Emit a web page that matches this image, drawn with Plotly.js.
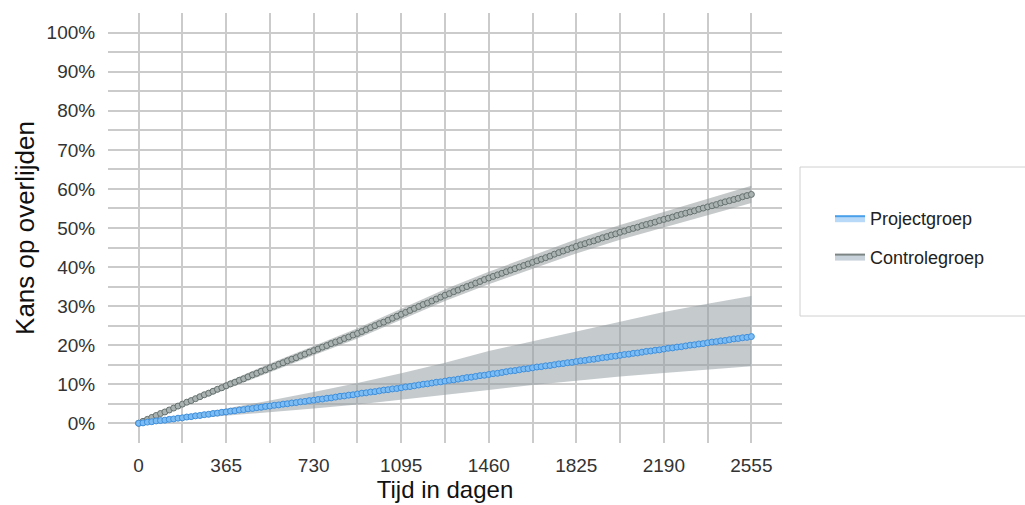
<!DOCTYPE html>
<html>
<head>
<meta charset="utf-8">
<script src="https://cdn.plot.ly/plotly-3.0.1.min.js"></script>
<style>html,body{margin:0;padding:0;background:#fff;}#chart{width:1025px;height:505px;}</style>
</head>
<body>
<div id="chart"></div>
<script>
// Days of each plotted point (20 per year)
const days = [0,18.25,36.5,54.75,73,91.25,109.5,127.75,146,164.25,
182.5,200.75,219,237.25,255.5,273.75,292,310.25,328.5,346.75,
365,383.25,401.5,419.75,438,456.25,474.5,492.75,511,529.25,
547.5,565.75,584,602.25,620.5,638.75,657,675.25,693.5,711.75,
730,748.25,766.5,784.75,803,821.25,839.5,857.75,876,894.25,
912.5,930.75,949,967.25,985.5,1003.75,1022,1040.25,1058.5,1076.75,
1095,1113.25,1131.5,1149.75,1168,1186.25,1204.5,1222.75,1241,1259.25,
1277.5,1295.75,1314,1332.25,1350.5,1368.75,1387,1405.25,1423.5,1441.75,
1460,1478.25,1496.5,1514.75,1533,1551.25,1569.5,1587.75,1606,1624.25,
1642.5,1660.75,1679,1697.25,1715.5,1733.75,1752,1770.25,1788.5,1806.75,
1825,1843.25,1861.5,1879.75,1898,1916.25,1934.5,1952.75,1971,1989.25,
2007.5,2025.75,2044,2062.25,2080.5,2098.75,2117,2135.25,2153.5,2171.75,
2190,2208.25,2226.5,2244.75,2263,2281.25,2299.5,2317.75,2336,2354.25,
2372.5,2390.75,2409,2427.25,2445.5,2463.75,2482,2500.25,2518.5,2536.75,
2555];

// Controlegroep (%)
const controle = [0,0.5,1.0,1.5,2.0,2.5,2.9,3.4,3.9,4.4,
4.9,5.4,5.8,6.3,6.8,7.3,7.7,8.2,8.7,9.1,
9.6,10.1,10.5,11.0,11.4,11.9,12.4,12.8,13.3,13.7,
14.2,14.6,15.1,15.5,16.0,16.4,16.8,17.3,17.7,18.2,
18.6,19.0,19.5,19.9,20.4,20.8,21.2,21.7,22.1,22.6,
23.0,23.5,24.0,24.5,25.0,25.5,25.9,26.4,26.9,27.4,
27.9,28.4,28.9,29.4,29.9,30.4,30.8,31.3,31.8,32.3,
32.8,33.2,33.7,34.1,34.6,35.0,35.4,35.9,36.3,36.8,
37.2,37.6,38.0,38.4,38.8,39.2,39.6,40.0,40.4,40.8,
41.2,41.6,42.0,42.4,42.8,43.3,43.7,44.1,44.5,44.9,
45.3,45.7,46.0,46.4,46.7,47.1,47.5,47.8,48.2,48.5,
48.9,49.2,49.6,49.9,50.2,50.6,50.9,51.2,51.5,51.9,
52.2,52.5,52.8,53.2,53.5,53.8,54.1,54.4,54.8,55.1,
55.4,55.7,56.0,56.4,56.7,57.0,57.3,57.6,58.0,58.3,
58.6];

// Projectgroep (%)
const project = [0,0.1,0.3,0.4,0.6,0.7,0.8,1.0,1.1,1.3,
1.4,1.6,1.7,1.9,2.0,2.2,2.3,2.5,2.6,2.8,
2.9,3.1,3.2,3.4,3.5,3.7,3.8,4.0,4.1,4.3,
4.4,4.6,4.7,4.9,5.0,5.2,5.3,5.5,5.6,5.8,
5.9,6.1,6.2,6.4,6.5,6.7,6.9,7.0,7.2,7.3,
7.5,7.7,7.8,8.0,8.1,8.3,8.5,8.6,8.8,8.9,
9.1,9.3,9.4,9.6,9.8,10.0,10.1,10.3,10.5,10.6,
10.8,11.0,11.1,11.3,11.5,11.7,11.8,12.0,12.2,12.3,
12.5,12.7,12.8,13.0,13.2,13.4,13.5,13.7,13.9,14.0,
14.2,14.4,14.5,14.7,14.8,15.0,15.2,15.3,15.5,15.6,
15.8,16.0,16.1,16.3,16.4,16.6,16.8,16.9,17.1,17.2,
17.4,17.6,17.7,17.9,18.0,18.2,18.4,18.5,18.7,18.8,
19.0,19.2,19.3,19.5,19.6,19.8,20.0,20.1,20.3,20.4,
20.6,20.8,20.9,21.1,21.2,21.4,21.6,21.7,21.9,22.0,
22.2];

// Confidence bands (%), every half year
const bandDays = [0,182.5,365,547.5,730,912.5,1095,1277.5,1460,1642.5,1825,2007.5,2190,2372.5,2555];
const controleUpper = [0,5.5,10.5,15.3,19.8,24.3,29.3,34.3,38.8,42.9,47.1,50.8,54.2,57.5,60.8];
const controleLower = [0,4.3,8.7,13.1,17.4,21.7,26.5,31.3,35.6,39.5,43.5,47.0,50.2,53.3,56.4];
const projectUpper = [0,1.8,3.8,5.8,8.0,10.3,12.8,15.5,18.5,21.0,23.5,26.0,28.5,30.6,32.6];
const projectLower = [0,1.0,2.0,2.9,3.8,4.8,6.0,7.3,8.5,9.8,10.9,12.0,12.9,13.8,14.6];

const xTicks = [0,365,730,1095,1460,1825,2190,2555];
const yTicks = [0,10,20,30,40,50,60,70,80,90,100];
const seriesNames = ['Projectgroep','Controlegroep'];

function band(upper, lower, color) {
  return {
    x: bandDays.concat(bandDays.slice().reverse()),
    y: upper.concat(lower.slice().reverse()),
    type: 'scatter', mode: 'lines', fill: 'toself',
    fillcolor: color, line: {width: 0, color: 'rgba(0,0,0,0)'},
    hoverinfo: 'skip', showlegend: false
  };
}

const traces = [
  band(controleUpper, controleLower, 'rgba(150,156,156,0.55)'),
  band(projectUpper, projectLower, 'rgba(150,158,164,0.55)'),
  {
    x: days, y: controle, type: 'scatter', mode: 'lines+markers', showlegend: false,
    line: {color: '#8a9493', width: 1},
    marker: {size: 6, color: '#a9b2b1', line: {color: '#66726f', width: 1}}
  },
  {
    x: days, y: project, type: 'scatter', mode: 'lines+markers', showlegend: false,
    line: {color: '#5aaaf0', width: 1.5},
    marker: {size: 6, color: '#7cbcf2', line: {color: '#3e8fdc', width: 1}}
  },
  {
    x: [null], y: [null], name: seriesNames[0], type: 'scatter', mode: 'lines',
    fill: 'toself', fillcolor: 'rgba(160,205,245,0.75)', legendgroup: 'a',
    line: {color: '#4a9fea', width: 2}
  },
  {
    x: [null], y: [null], name: seriesNames[1], type: 'scatter', mode: 'lines',
    fill: 'toself', fillcolor: 'rgba(180,195,205,0.75)', legendgroup: 'b',
    line: {color: '#7d8584', width: 2}
  }
];

const gridCol = '#cbcbcb';
const layout = {
  width: 1025, height: 505,
  margin: {l: 108, r: 243, t: 13, b: 62},
  paper_bgcolor: '#ffffff', plot_bgcolor: '#ffffff',
  font: {family: 'Liberation Sans, Arial, sans-serif', color: '#333'},
  showlegend: true,
  xaxis: {
    range: [-127.75, 2682.75], tickvals: xTicks, ticktext: xTicks.map(String),
    showgrid: true, gridcolor: gridCol, gridwidth: 2, zeroline: false, showline: false,
    minor: {dtick: 182.5, tick0: 0, showgrid: true, gridcolor: gridCol, gridwidth: 2},
    ticks: 'outside', ticklen: 5, tickcolor: 'rgba(0,0,0,0)',
    tickfont: {size: 19, color: '#333'},
    title: {text: 'Tijd in dagen', font: {size: 24, color: '#111'}, standoff: 4},
    automargin: false, fixedrange: true
  },
  yaxis: {
    range: [-5.05, 105.05], tickvals: yTicks, ticktext: yTicks.map(v => v + '%'),
    showgrid: true, gridcolor: gridCol, gridwidth: 2, zeroline: false, showline: false,
    minor: {dtick: 5, tick0: 0, showgrid: true, gridcolor: gridCol, gridwidth: 2},
    ticks: 'outside', ticklen: 8, tickcolor: 'rgba(0,0,0,0)',
    tickfont: {size: 19, color: '#333'},
    title: {text: 'Kans op overlijden', font: {size: 26, color: '#111'}, standoff: 4},
    automargin: false, fixedrange: true
  },
  legend: {
    x: (830 - 108) / 674, xanchor: 'left', y: (443 - 200) / 430, yanchor: 'top',
    bgcolor: 'rgba(0,0,0,0)', borderwidth: 0,
    font: {size: 18, color: '#222'}, tracegroupgap: 12, itemwidth: 30
  },
  shapes: [{
    type: 'rect', xref: 'paper', yref: 'paper',
    x0: (800 - 108) / 674, x1: (1030 - 108) / 674,
    y0: (443 - 316) / 430, y1: (443 - 167) / 430,
    line: {color: '#d0d0d0', width: 1}, fillcolor: 'rgba(0,0,0,0)', layer: 'below'
  }]
};

Plotly.newPlot('chart', traces, layout, {displayModeBar: false, staticPlot: true});
</script>
</body>
</html>
